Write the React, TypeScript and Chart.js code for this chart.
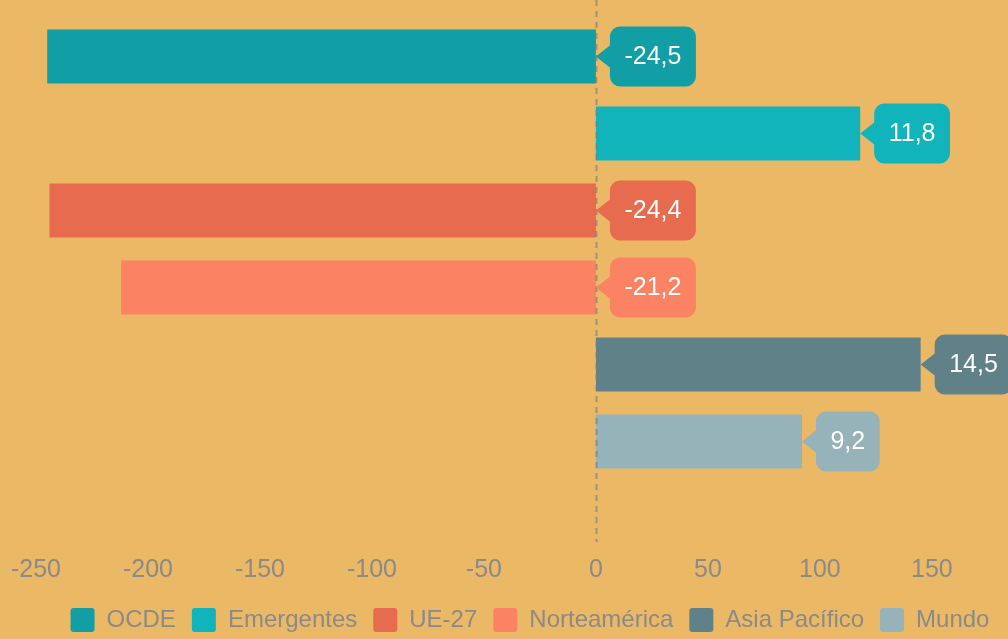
import React, { useEffect, useRef } from "react";
import { Chart, registerables } from "chart.js";

Chart.register(...registerables);

const categories = ["OCDE", "Emergentes", "UE-27", "Norteamérica", "Asia Pacífico", "Mundo"];
const barValues = [-245, 118, -244, -212, 145, 92];
const labelValues = [-24.5, 11.8, -24.4, -21.2, 14.5, 9.2];
const colors = ["#119EA4", "#12B4BC", "#E76B4E", "#FC8264", "#618189", "#95B3B8"];
const xTickLabels = [-250, -200, -150, -100, -50, 0, 50, 100, 150];
const xMin = -250;
const xMax = 184;

const BG = "#EBB866";
const TEXT_GREY = "#8A8A8A";
const FONT = "'Liberation Sans', Arial, sans-serif";

const fmt = (v: number) => v.toFixed(1).replace(".", ",");

const bgPlugin = {
  id: "bg",
  beforeDraw(chart: any) {
    const { ctx, width, height } = chart;
    ctx.save();
    ctx.fillStyle = BG;
    ctx.fillRect(0, 0, width, height);
    ctx.restore();
  },
  afterLayout(chart: any) {
    if (chart.legend) {
      chart.legend.left += 8;
      chart.legend.right += 8;
    }
  },
};

const calloutPlugin = {
  id: "callouts",
  afterDatasetsDraw(chart: any) {
    const { ctx, chartArea } = chart;
    const xs = chart.scales.x;
    const zx = Math.round(xs.getPixelForValue(0)) + 0.5;
    ctx.save();
    ctx.strokeStyle = "rgba(125,125,125,0.65)";
    ctx.lineWidth = 2;
    ctx.setLineDash([6, 5]);
    ctx.beginPath();
    ctx.moveTo(zx, 0);
    ctx.lineTo(zx, chartArea.bottom + 62);
    ctx.stroke();
    ctx.restore();

    ctx.save();
    ctx.font = `25px ${FONT}`;
    chart.data.datasets.forEach((ds: any, i: number) => {
      const meta = chart.getDatasetMeta(i);
      const el: any = meta.data[i];
      if (!el) return;
      const anchor = Math.max(el.x, el.base);
      const y = el.y;
      const txt = fmt(labelValues[i]);
      const tw = ctx.measureText(txt).width;
      const padX = 14.5, h = 60, arrow = 14, half = 11, r = 10;
      const bx = anchor + arrow;
      const bw = tw + padX * 2;
      const by = y - h / 2;
      ctx.beginPath();
      ctx.moveTo(anchor, y);
      ctx.lineTo(bx, y - half);
      ctx.lineTo(bx, by + r);
      ctx.arcTo(bx, by, bx + r, by, r);
      ctx.lineTo(bx + bw - r, by);
      ctx.arcTo(bx + bw, by, bx + bw, by + r, r);
      ctx.lineTo(bx + bw, by + h - r);
      ctx.arcTo(bx + bw, by + h, bx + bw - r, by + h, r);
      ctx.lineTo(bx + r, by + h);
      ctx.arcTo(bx, by + h, bx, by + h - r, r);
      ctx.lineTo(bx, y + half);
      ctx.closePath();
      ctx.fillStyle = ds.backgroundColor;
      ctx.fill();
      ctx.fillStyle = "#FFFFFF";
      ctx.textAlign = "center";
      ctx.textBaseline = "middle";
      ctx.fillText(txt, bx + bw / 2, y + 1);
    });
    ctx.restore();
  },
};

export default function App() {
  const ref = useRef<HTMLCanvasElement | null>(null);

  useEffect(() => {
    if (!ref.current) return;
    const chart = new Chart(ref.current, {
      type: "bar",
      data: {
        labels: categories,
        datasets: categories.map((name, i) => ({
          label: name,
          data: categories.map((_, j) => (j === i ? barValues[i] : null)),
          backgroundColor: colors[i],
          borderWidth: 0,
          barPercentage: 0.7,
          categoryPercentage: 1,
        })),
      },
      options: {
        indexAxis: "y",
        responsive: false,
        animation: false,
        layout: { padding: { top: 18, left: 36, right: 0, bottom: -3 } },
        scales: {
          y: { stacked: true, display: false },
          x: {
            min: xMin,
            max: xMax,
            grid: { display: false, drawTicks: false },
            border: { display: false },
            ticks: {
              stepSize: 50,
              autoSkip: false,
              maxRotation: 0,
              color: TEXT_GREY,
              padding: 75,
              font: { family: FONT, size: 25 },
              callback: (v: any) => (xTickLabels.includes(Number(v)) ? String(v) : ""),
            },
            afterFit: (s: any) => {
              s.height = 112;
              s.paddingLeft = 0;
              s.paddingRight = 0;
            },
          },
        },
        plugins: {
          tooltip: { enabled: false },
          legend: {
            position: "bottom",
            labels: {
              boxWidth: 24,
              boxHeight: 24,
              padding: 16,
              color: TEXT_GREY,
              useBorderRadius: true,
              borderRadius: 3,
              font: { family: FONT, size: 24 },
            },
          },
        },
      } as any,
      plugins: [bgPlugin, calloutPlugin],
    });
    return () => chart.destroy();
  }, []);

  return (
    <div style={{ position: "fixed", left: 0, top: 0, width: 1008, height: 639, background: BG }}>
      <canvas ref={ref} width={1008} height={639} style={{ display: "block" }} />
    </div>
  );
}
